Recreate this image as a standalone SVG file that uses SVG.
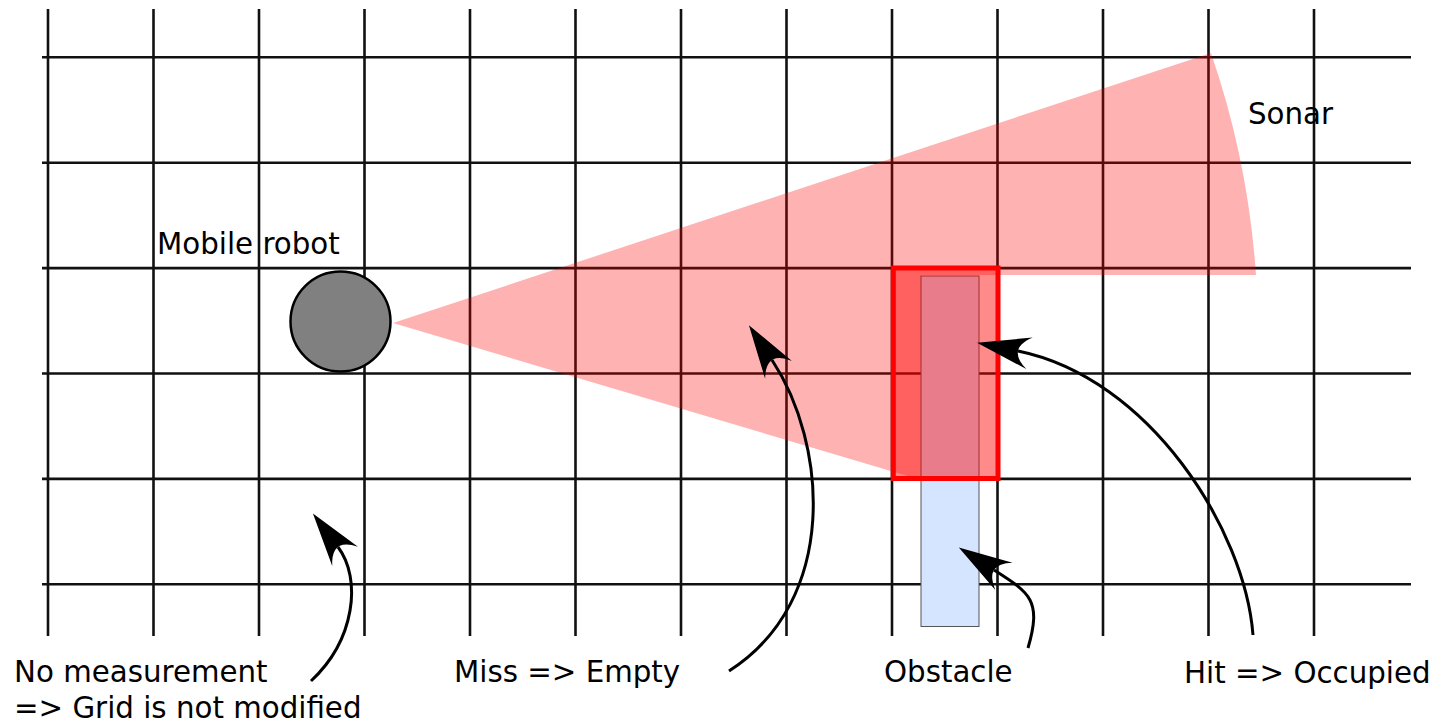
<svg xmlns="http://www.w3.org/2000/svg" width="1441" height="722" viewBox="0 0 1441 722">
<style>
.grid line{stroke:#111;stroke-width:2.6}
.lbl{font-family:"DejaVu Sans",sans-serif;font-size:29.3px;fill:#000}
.arr{fill:none;stroke:#000;stroke-width:3}
</style>
<defs>
<marker id="head" markerUnits="userSpaceOnUse" orient="auto" refX="11" refY="0" markerWidth="60" markerHeight="40" viewBox="-2 -18 56 36" overflow="visible">
<path d="M50,0 L0,-15 Q22,0 0,15 Z" fill="#000"/>
</marker>
</defs>
<rect width="1441" height="722" fill="#fff"/>
<g id="grid" class="grid">
<line x1="48" y1="9" x2="48" y2="636"/>
<line x1="153.5" y1="9" x2="153.5" y2="636"/>
<line x1="259" y1="9" x2="259" y2="636"/>
<line x1="364.5" y1="9" x2="364.5" y2="636"/>
<line x1="470" y1="9" x2="470" y2="636"/>
<line x1="575.5" y1="9" x2="575.5" y2="636"/>
<line x1="681" y1="9" x2="681" y2="636"/>
<line x1="786.5" y1="9" x2="786.5" y2="636"/>
<line x1="892" y1="9" x2="892" y2="636"/>
<line x1="997.5" y1="9" x2="997.5" y2="636"/>
<line x1="1103" y1="9" x2="1103" y2="636"/>
<line x1="1208.5" y1="9" x2="1208.5" y2="636"/>
<line x1="1314" y1="9" x2="1314" y2="636"/>
<line x1="42" y1="57.3" x2="1411" y2="57.3"/>
<line x1="42" y1="162.7" x2="1411" y2="162.7"/>
<line x1="42" y1="268.1" x2="1411" y2="268.1"/>
<line x1="42" y1="373.5" x2="1411" y2="373.5"/>
<line x1="42" y1="478.9" x2="1411" y2="478.9"/>
<line x1="42" y1="584.3" x2="1411" y2="584.3"/>
</g>
<g id="sonar">
<path d="M393,323 L1211,53 A862,862 0 0,1 1256,275 L921,275 L921,480 Z" fill="#ff0000" fill-opacity="0.3"/>
</g>
<g id="obstacle">
<rect x="921" y="276" width="58" height="350.5" fill="#d5e5ff" stroke="#555" stroke-width="1"/>
</g>
<g id="hit-cell">
<rect x="893.3" y="268" width="104.7" height="210.5" fill="#ff0000" fill-opacity="0.46" stroke="#ff0000" stroke-width="5"/>
</g>
<g id="robot">
<circle cx="340.5" cy="321.5" r="50" fill="#808080" stroke="#000" stroke-width="2.5"/>
</g>
<g id="connectors">
<path class="arr" d="M311,681 C355,640 362,579 338,547" marker-end="url(#head)"/>
<path class="arr" d="M729,671 C840,600 827,443 772,360" marker-end="url(#head)"/>
<path class="arr" d="M1028,648 C1042,600 1030,593 994,570" marker-end="url(#head)"/>
<path class="arr" d="M1253,635 C1245,530 1150,378 1018,351" marker-end="url(#head)"/>
</g>
<g id="labels">
<text class="lbl" x="157" y="254">Mobile robot</text>
<text class="lbl" x="1248" y="124">Sonar</text>
<text class="lbl" x="14" y="682">No measurement</text>
<text class="lbl" x="14" y="718">=&gt; Grid is not modified</text>
<text class="lbl" x="454" y="682">Miss =&gt; Empty</text>
<text class="lbl" x="884" y="682">Obstacle</text>
<text class="lbl" x="1184" y="683">Hit =&gt; Occupied</text>
</g>
</svg>
